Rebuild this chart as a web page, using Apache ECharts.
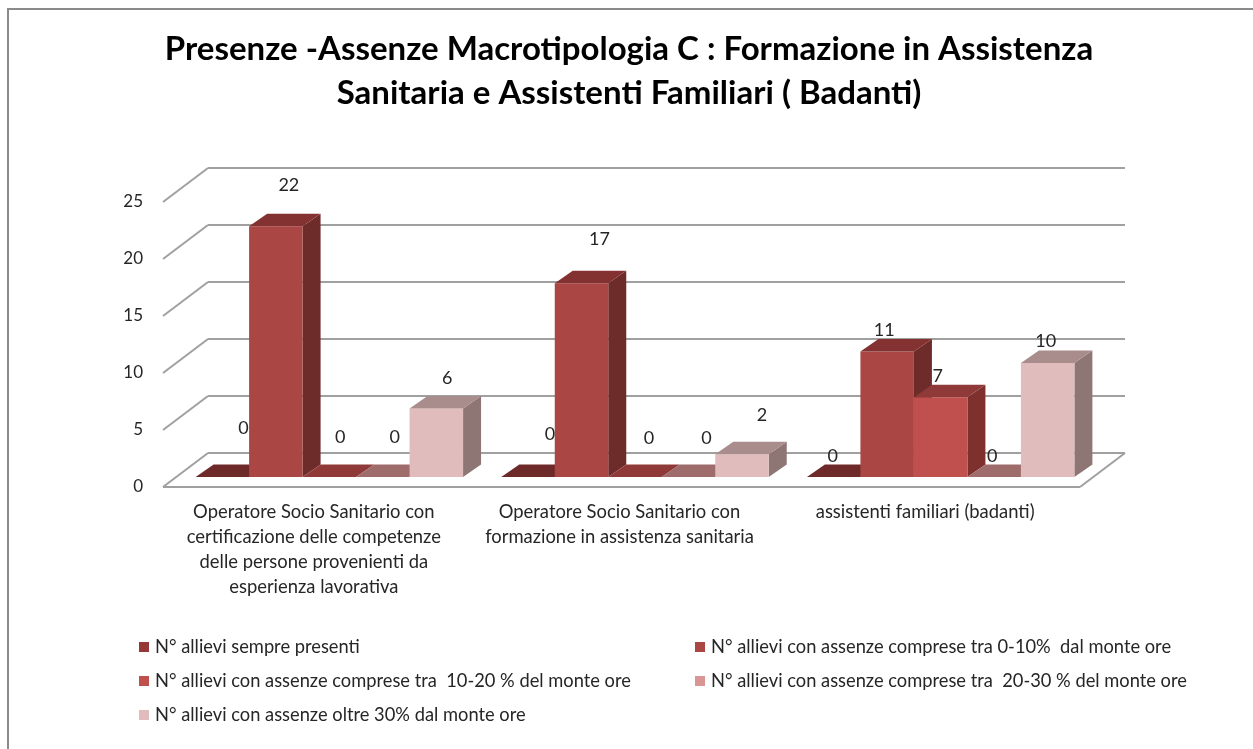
<!DOCTYPE html>
<html>
<head>
<meta charset="utf-8">
<style>html,body{margin:0;padding:0;background:#fff}#c{width:1253px;height:749px}</style>
<script src="https://cdn.jsdelivr.net/npm/echarts@6/dist/echarts.min.js"></script>
</head>
<body>
<div id="c"></div>
<script>
const titleText = 'Presenze -Assenze Macrotipologia C : Formazione in Assistenza\nSanitaria e Assistenti Familiari ( Badanti)';
const categories = [
  'Operatore Socio Sanitario con\ncertificazione delle competenze\ndelle persone provenienti da\nesperienza lavorativa',
  'Operatore Socio Sanitario con\nformazione in assistenza sanitaria',
  'assistenti familiari (badanti)'
];
const seriesNames = [
  'N° allievi sempre presenti',
  'N° allievi con assenze comprese tra 0-10%  dal monte ore',
  'N° allievi con assenze comprese tra  10-20 % del monte ore',
  'N° allievi con assenze comprese tra  20-30 % del monte ore',
  'N° allievi con assenze oltre 30% dal monte ore'
];
const sempre = [0, 0, 0];
const tra0e10 = [22, 17, 11];
const tra10e20 = [0, 0, 7];
const tra20e30 = [0, 0, 0];
const oltre30 = [6, 2, 10];
const yTicks = [0, 5, 10, 15, 20, 25];

const FONT = 'Lato, "Open Sans", sans-serif';
const faces = [
  {front:'#953735', top:'#6e2a28', side:'#5e2423'},
  {front:'#aa4644', top:'#843231', side:'#6d2c2a'},
  {front:'#c0504d', top:'#8f3a38', side:'#7d302e'},
  {front:'#d99694', top:'#9f6c6c', side:'#8a5e5e'},
  {front:'#e1bcbc', top:'#a98c8c', side:'#8e7675'}
];
// the depth of the chart box and of a bar, in pixels
const BOX = [45, -34], BAR_BASE = [13.5, -10], BAR_DEPTH = [18, -12.5];
const BAR_RATIO = 0.175;
// hand-placed data labels of the original: shift from the top-centre of the bar front, per [series][category]
const labelShift = [
  [[21,-49],[22,-43],[-1,-21]],
  [[13,-41],[18,-44],[-3,-21]],
  [[11,-40],[14,-39],[-3,-21]],
  [[12,-40],[18,-39],[-2,-21]],
  [[11,-30],[20,-39],[-2,-22]]
];

function barRenderer(s) {
  return function (params, api) {
    const cat = api.value(0), val = api.value(1);
    const band = api.size([1, 0])[0], w = band * BAR_RATIO;
    const base = api.coord([cat, 0]), top = api.coord([cat, val]);
    const x0 = base[0] + BAR_BASE[0] + (s - 2.5) * w, x1 = x0 + w;
    const yb = base[1] + BAR_BASE[1], yt = top[1] + BAR_BASE[1];
    const dx = BAR_DEPTH[0], dy = BAR_DEPTH[1], f = faces[s];
    const poly = (pts, fill) => ({type:'polygon', shape:{points:pts}, style:{fill:fill}});
    const children = [];
    if (val > 0) {
      children.push(poly([[x1,yb],[x1+dx,yb+dy],[x1+dx,yt+dy],[x1,yt]], f.side));
      children.push(poly([[x0,yb],[x1,yb],[x1,yt],[x0,yt]], f.front));
    }
    children.push(poly([[x0,yt],[x1,yt],[x1+dx,yt+dy],[x0+dx,yt+dy]], f.top));
    const sh = labelShift[s][cat];
    children.push({type:'text', style:{
      text:String(val), x:(x0+x1)/2+sh[0], y:yt+sh[1], align:'center', verticalAlign:'middle',
      font:'18px ' + FONT, fill:'#262626'}});
    return {type:'group', children:children};
  };
}

function frameRenderer(params, api) {
  const v = api.value(0);
  const band = api.size([1, 0])[0];
  const first = api.coord([0, v]), last = api.coord([categories.length - 1, v]);
  const a = [first[0] - band / 2, first[1]], b = [last[0] + band / 2, last[1]];
  const line = (p, q) => ({type:'line', shape:{x1:p[0],y1:p[1],x2:q[0],y2:q[1]},
    style:{stroke:'#a0a0a0', lineWidth:2}});
  const back = [a[0]+BOX[0], a[1]+BOX[1]], backEnd = [b[0]+BOX[0], b[1]+BOX[1]];
  const children = [line(a, back), line(back, backEnd)];
  if (v === 0) {
    children.push(line(a, b), line(b, backEnd));
  }
  return {type:'group', children:children};
}

const values = [sempre, tra0e10, tra10e20, tra20e30, oltre30];
const barSeries = values.map((arr, s) => ({
  type:'custom', name:seriesNames[s], coordinateSystem:'cartesian2d',
  itemStyle:{color:faces[s].front},
  encode:{x:0, y:1},
  data:arr.map((v, c) => [c, v]),
  renderItem:barRenderer(s)
}));

const legendBase = {orient:'vertical', icon:'rect', itemWidth:10, itemHeight:10, itemGap:16, selectedMode:false,
  textStyle:{fontFamily:FONT, fontSize:18.3, color:'#262626', padding:[0,0,0,1]}};

const chart = echarts.init(document.getElementById('c'), null, {renderer:'canvas'});
chart.setOption({
  animation:false,
  backgroundColor:'#fff',
  title:{text:titleText, left:624, top:22, textAlign:'center',
    textStyle:{fontFamily:FONT, fontSize:33, fontWeight:'bold', color:'#000', lineHeight:44}},
  grid:{left:163, top:202, width:917, height:285},
  xAxis:{type:'category', data:categories, axisLine:{show:false}, axisTick:{show:false}, splitLine:{show:false},
    axisLabel:{interval:0, margin:13, fontFamily:FONT, fontSize:18.4, color:'#262626', lineHeight:25, align:'center', padding:[0,4,0,0]}},
  yAxis:{type:'value', min:0, max:25, interval:5, axisLine:{show:false}, axisTick:{show:false}, splitLine:{show:false},
    axisLabel:{margin:20, fontFamily:FONT, fontSize:17, color:'#262626'}},
  legend:[
    Object.assign({}, legendBase, {left:134, top:633, data:[seriesNames[0], seriesNames[2], seriesNames[4]]}),
    Object.assign({}, legendBase, {left:690, top:633, data:[seriesNames[1], seriesNames[3]]})
  ],
  graphic:[
    {type:'line', silent:true, z:-1, shape:{x1:8, y1:9, x2:1253, y2:9}, style:{stroke:'#8a8a8a', lineWidth:2}},
    {type:'line', silent:true, z:-1, shape:{x1:8, y1:8, x2:8, y2:749}, style:{stroke:'#8a8a8a', lineWidth:2}}
  ],
  series:[{type:'custom', name:'frame', silent:true, z:1, coordinateSystem:'cartesian2d',
    encode:{y:0}, data:yTicks.map(v => [v]), renderItem:frameRenderer}]
    .concat(barSeries.map(s => Object.assign(s, {z:2})))
});
</script>
</body>
</html>
